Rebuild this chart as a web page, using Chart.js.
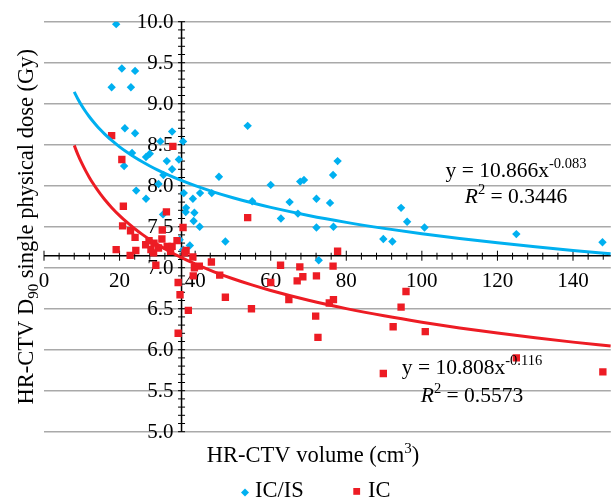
<!DOCTYPE html>
<html><head><meta charset="utf-8">
<script src="https://cdn.jsdelivr.net/npm/chart.js@4"></script>
<style>html,body{margin:0;padding:0;background:#fff}canvas{display:block}</style>
</head><body>
<canvas id="c" width="616" height="500"></canvas>
<script>
// ---- data ----
const seriesNames = ['IC/IS', 'IC'];
const icisX = [19.1,17.9,20.6,24.1,23.0,21.4,24.1,23.3,21.2,24.4,27.0,27.0,28.0,30.8,33.9,32.5,33.9,31.6,30.3,35.7,36.8,31.5,37.0,37.6,37.5,39.4,39.8,39.6,41.2,41.3,44.4,46.3,48.0,53.9,55.1,60.0,62.7,65.0,67.2,67.8,68.8,72.1,72.1,75.7,76.5,77.7,76.6,72.7,89.8,92.2,94.5,96.1,100.7,125.0,147.8,35.9,36.8,38.6];
const icisY = [9.97,9.20,9.43,9.40,9.20,8.70,8.64,8.40,8.24,7.94,7.84,8.35,8.39,8.54,8.66,8.30,8.20,8.13,8.02,8.32,8.54,7.65,7.91,7.73,7.68,7.84,7.67,7.57,7.50,7.91,7.91,8.11,7.32,8.73,7.81,8.01,7.60,7.80,7.66,8.05,8.07,7.84,7.49,7.79,8.13,8.30,7.50,7.09,7.35,7.32,7.73,7.56,7.49,7.41,7.31,7.34,7.22,7.27];
const icX = [17.9,20.6,34.1,21.0,32.4,53.9,31.3,36.8,20.8,22.9,24.1,19.1,22.8,24.3,26.9,27.8,28.3,29.1,30.3,31.2,32.6,33.9,35.2,29.0,29.6,33.5,37.6,37.3,39.4,41.1,39.8,39.5,44.3,46.5,48.0,35.5,36.0,38.2,35.5,54.9,60.0,62.6,64.8,67.0,67.7,68.5,72.1,71.9,72.5,75.5,76.6,76.5,77.7,89.8,92.4,94.5,95.8,100.9,125.0,147.9];
const icY = [8.61,8.32,8.48,7.75,7.68,7.61,7.46,7.49,7.51,7.45,7.37,7.22,7.15,7.21,7.28,7.33,7.22,7.30,7.24,7.35,7.26,7.26,7.33,7.18,7.03,7.20,7.21,7.18,7.13,7.02,7.00,6.90,7.07,6.91,6.64,6.82,6.67,6.48,6.20,6.50,6.82,7.03,6.61,6.84,7.01,6.89,6.90,6.41,6.15,6.57,6.61,7.02,7.20,5.71,6.28,6.52,6.71,6.22,5.90,5.73];
// power trendlines as printed on the chart: y = a * x^b
const trendIcis = {a: 10.866, b: -0.083, eq: '10.866', exp: '-0.083', r2: '0.3446'};
const trendIc   = {a: 10.808, b: -0.116, eq: '10.808', exp: '-0.116', r2: '0.5573'};
const trendXs = [8,9,10,11,12,13,14,15,16,18,20,22,24,26,28,30,33,36,40,45,50,55,60,70,80,90,100,110,120,130,140,150];
const yTickLabels = ['5.0','5.5','6.0','6.5','7.0','7.5','8.0','8.5','9.0','9.5','10.0'];
const xTickLabels = ['0','20','40','60','80','100','120','140'];
const axisCross = {x: 36.4, y: 7.146};
const xTitle = 'HR-CTV volume (cm';
const yTitle = ['HR-CTV D', '90', ' single physical dose (Gy)'];

// ---- styling ----
const BLUE = '#00B0F0', RED = '#ED1C24';
const FONT = '"Liberation Serif", "Times New Roman", serif';

const pts = (xs, ys) => xs.map((v, i) => ({x: v, y: ys[i]}));
const trendPts = t => trendXs.map(v => ({x: v, y: t.a * Math.pow(v, t.b)}));

function drawRuns(ctx, runs, x, y, align) {
  let w = 0;
  runs.forEach(r => { ctx.font = (r.italic ? 'italic ' : '') + r.size + 'px ' + FONT; r.w = ctx.measureText(r.t).width; w += r.w; });
  let cx = align === 'center' ? x - w / 2 : x;
  ctx.textAlign = 'left';
  runs.forEach(r => { ctx.font = (r.italic ? 'italic ' : '') + r.size + 'px ' + FONT; ctx.fillText(r.t, cx, y + (r.dy || 0)); cx += r.w; });
}

const decor = {
  id: 'decor',
  beforeDatasetsDraw(chart) {
    const {ctx, scales: {x, y}} = chart;
    const x0 = x.getPixelForValue(axisCross.x), y0 = y.getPixelForValue(axisCross.y);
    ctx.save();
    ctx.fillStyle = '#000';
    ctx.font = '21px ' + FONT;
    ctx.textAlign = 'right'; ctx.textBaseline = 'middle';
    yTickLabels.forEach(t => ctx.fillText(t, x0 - 8, y.getPixelForValue(parseFloat(t)) + 1));
    ctx.textAlign = 'center';
    xTickLabels.forEach(t => ctx.fillText(t, x.getPixelForValue(parseFloat(t)), y0 + 26));
    ctx.strokeStyle = '#000';
    ctx.lineWidth = 1.5;
    ctx.beginPath();
    ctx.moveTo(x.left, y0); ctx.lineTo(x.right, y0);
    ctx.moveTo(x0, y.top); ctx.lineTo(x0, y.bottom);
    ctx.stroke();
    ctx.lineWidth = 1;
    ctx.beginPath();
    for (let i = 0; i * 4 <= 150; i++) {
      const px = x.getPixelForValue(i * 4);
      const major = (i * 4) % 20 === 0;
      ctx.moveTo(px, y0 - (major ? 5 : 3)); ctx.lineTo(px, y0 + (major ? 5 : 4));
    }
    for (let i = 50; i <= 100; i++) {
      const py = y.getPixelForValue(i / 10);
      ctx.moveTo(x0 - 3.5, py); ctx.lineTo(x0 + 3.5, py);
    }
    ctx.stroke();
    ctx.restore();
  },
  afterDraw(chart) {
    const {ctx, scales: {x, y}} = chart;
    ctx.save();
    ctx.fillStyle = '#000';
    ctx.textBaseline = 'alphabetic';
    // x title
    drawRuns(ctx, [{t: xTitle, size: 22.5}, {t: '3', size: 15, dy: -9}, {t: ')', size: 22.5}], 313, 462, 'center');
    // y title
    ctx.save();
    ctx.translate(33, (y.top + y.bottom) / 2);
    ctx.rotate(-Math.PI / 2);
    drawRuns(ctx, [{t: yTitle[0], size: 22.5}, {t: yTitle[1], size: 15, dy: 5}, {t: yTitle[2], size: 22.5}], 0, 0, 'center');
    ctx.restore();
    // equations
    drawRuns(ctx, [{t: 'y = ' + trendIcis.eq + 'x', size: 21.5}, {t: trendIcis.exp, size: 14.5, dy: -9}], 516, 177, 'center');
    drawRuns(ctx, [{t: 'R', size: 21.5, italic: true}, {t: '2', size: 14.5, dy: -9}, {t: ' = ' + trendIcis.r2, size: 21.5}], 516, 202.5, 'center');
    drawRuns(ctx, [{t: 'y = ' + trendIc.eq + 'x', size: 21.5}, {t: trendIc.exp, size: 14.5, dy: -9}], 472, 373.5, 'center');
    drawRuns(ctx, [{t: 'R', size: 21.5, italic: true}, {t: '2', size: 14.5, dy: -9}, {t: ' = ' + trendIc.r2, size: 21.5}], 472, 401.5, 'center');
    // legend
    ctx.fillStyle = BLUE;
    ctx.beginPath();
    ctx.moveTo(245, 488.5); ctx.lineTo(249, 492.5); ctx.lineTo(245, 496.5); ctx.lineTo(241, 492.5); ctx.closePath(); ctx.fill();
    ctx.fillStyle = RED;
    ctx.fillRect(353.3, 488, 6.8, 6.8);
    ctx.fillStyle = '#000';
    drawRuns(ctx, [{t: seriesNames[0], size: 22.5}], 255, 497, 'left');
    drawRuns(ctx, [{t: seriesNames[1], size: 22.5}], 368, 497, 'left');
    ctx.restore();
  }
};

new Chart(document.getElementById('c'), {
  type: 'scatter',
  data: {
    datasets: [
      {label: seriesNames[0], data: pts(icisX, icisY), pointStyle: 'rectRot', pointRadius: 4.2, backgroundColor: BLUE, borderWidth: 0, order: 4},
      {label: seriesNames[1], data: pts(icX, icY), pointStyle: 'rect', pointRadius: 5.2, backgroundColor: RED, borderWidth: 0, order: 3},
      {label: 'trend IC/IS', data: trendPts(trendIcis), showLine: true, borderColor: BLUE, borderWidth: 3, pointRadius: 0, cubicInterpolationMode: 'monotone', order: 2},
      {label: 'trend IC', data: trendPts(trendIc), showLine: true, borderColor: RED, borderWidth: 3, pointRadius: 0, cubicInterpolationMode: 'monotone', order: 1}
    ]
  },
  options: {
    responsive: false,
    animation: false,
    devicePixelRatio: 1,
    layout: {padding: {left: 44, right: 0.5, top: 21.7, bottom: 68.3}},
    plugins: {legend: {display: false}, tooltip: {enabled: false}},
    scales: {
      x: {type: 'linear', min: 0, max: 150, position: {y: axisCross.y},
          grid: {display: false}, border: {display: false}, ticks: {display: false}},
      y: {type: 'linear', min: 5, max: 10, position: {x: axisCross.x},
          grid: {color: '#A9A9A9', lineWidth: 1.5, drawTicks: false}, border: {display: false},
          ticks: {display: false, stepSize: 0.5}}
    }
  },
  plugins: [decor]
});
</script>
</body></html>
